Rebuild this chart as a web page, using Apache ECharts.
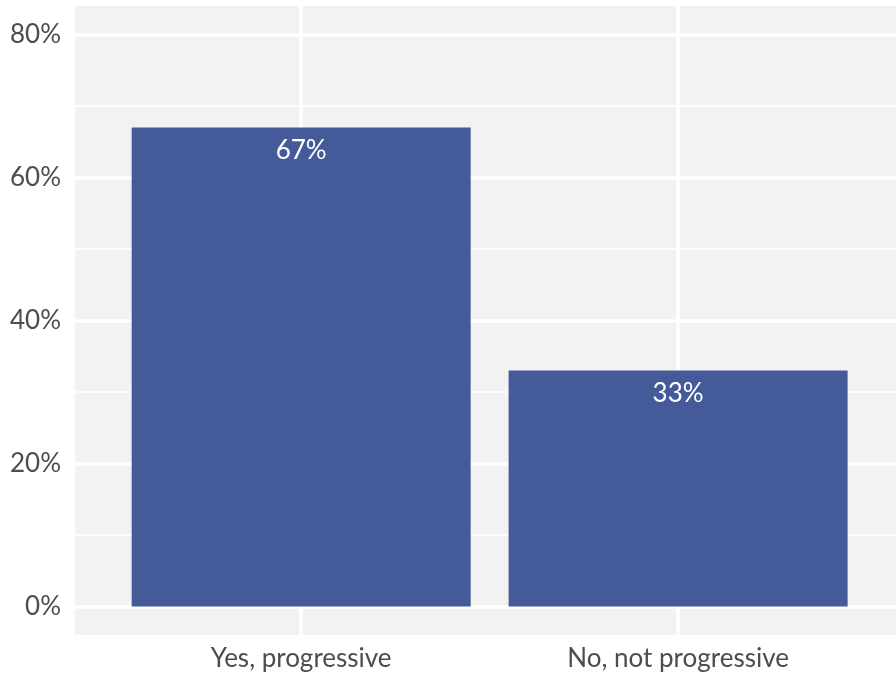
<!DOCTYPE html>
<html><head><meta charset="utf-8">
<script src="https://cdn.jsdelivr.net/npm/echarts@6/dist/echarts.min.js"></script>
<style>html,body{margin:0;padding:0;background:#fff}#c{width:896px;height:676px}</style>
</head><body><div id="c"></div>
<script>
const categories = ["Yes, progressive", "No, not progressive"];
const values = [67, 33];
const yTicks = [0, 20, 40, 60, 80];
const yMinor = [10, 30, 50, 70];
const xPos = [1, 2];

const chart = echarts.init(document.getElementById('c'), null, {renderer: 'canvas'});
const font = 'Lato, "Noto Sans", sans-serif';
const gridLines = [];
yTicks.forEach(v => gridLines.push({yAxis: v, lineStyle: {width: 3.5}}));
yMinor.forEach(v => gridLines.push({yAxis: v, lineStyle: {width: 1.6}}));
xPos.forEach(v => gridLines.push({xAxis: v, lineStyle: {width: 3.5}}));

chart.setOption({
  animation: false,
  backgroundColor: '#ffffff',
  grid: {left: 75, top: 6, right: 0, height: 629, backgroundColor: '#F2F2F2', show: true, borderWidth: 0},
  xAxis: {
    type: 'value', min: 0.4, max: 2.578,
    axisLine: {show: false},
    axisTick: {show: false, customValues: xPos},
    splitLine: {show: false},
    axisLabel: {customValues: xPos, formatter: v => categories[Math.round(v) - 1] || '',
      color: '#4D4D4D', fontSize: 26, fontFamily: font, margin: 11}
  },
  yAxis: {
    type: 'value', min: -4, max: 84,
    axisLine: {show: false},
    axisTick: {show: false, customValues: yTicks},
    splitLine: {show: false},
    axisLabel: {customValues: yTicks, formatter: v => v + '%',
      color: '#4D4D4D', fontSize: 26, fontFamily: font, margin: 14}
  },
  series: [
    {
      type: 'line', data: [], zlevel: 0, z: 1, silent: true,
      markLine: {silent: true, symbol: 'none', label: {show: false},
        lineStyle: {color: '#ffffff', type: 'solid'}, data: gridLines, animation: false}
    },
    {
      type: 'bar', zlevel: 1, z: 3,
      data: values.map((v, i) => [xPos[i], v]),
      barWidth: 339,
      itemStyle: {color: '#445A99'},
      label: {show: true, position: 'insideTop', distance: 10, formatter: p => p.value[1] + '%',
        color: '#ffffff', fontSize: 26, fontFamily: font}
    }
  ]
});
</script></body></html>
